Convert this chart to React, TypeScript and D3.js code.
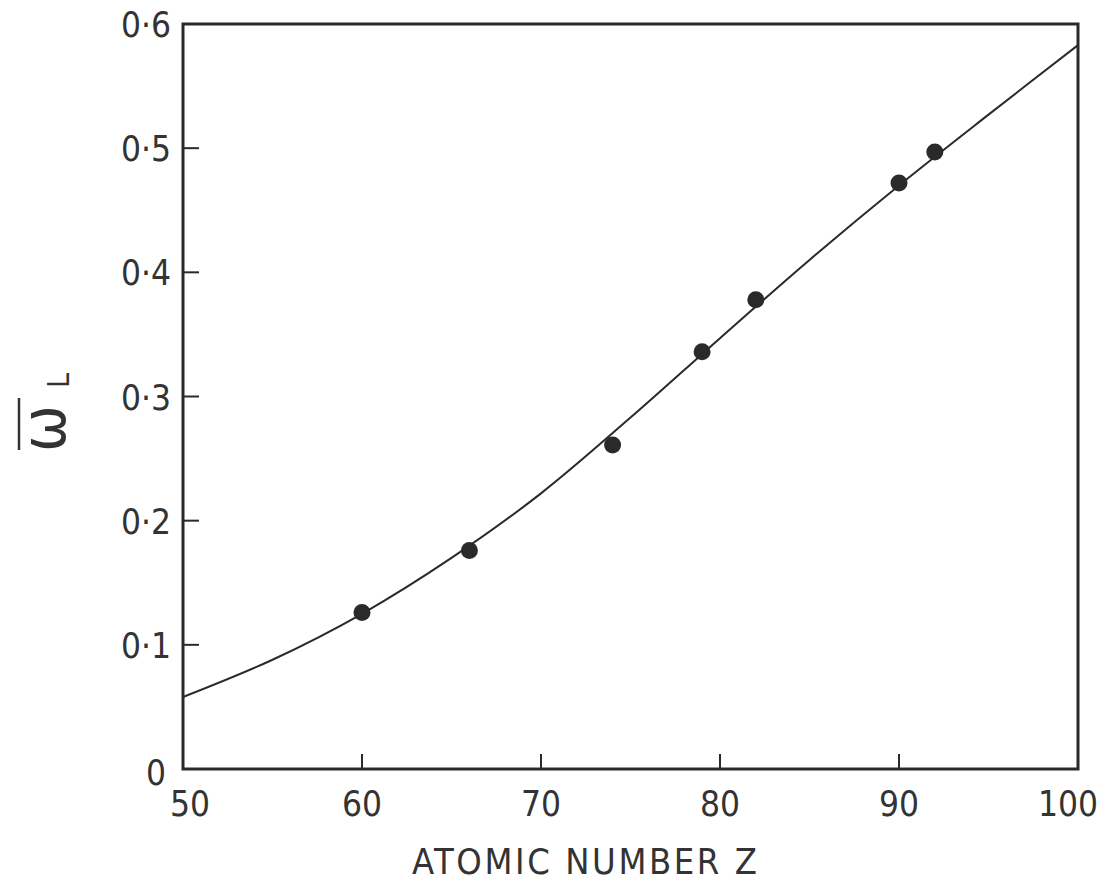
import * as d3 from "d3";

// measured points (Nd, Dy, W, Au, Pb, Th, U)
const pointZ = [60, 66, 74, 79, 82, 90, 92];
const pointOmega = [0.126, 0.176, 0.261, 0.336, 0.378, 0.472, 0.497];

// fitted curve
const curveZ = [50, 55, 60, 65, 70, 75, 80, 85, 90, 95, 100];
const curveOmega = [0.058, 0.088, 0.125, 0.17, 0.222, 0.283, 0.347, 0.41, 0.47, 0.527, 0.583];

const xTicks = [50, 60, 70, 80, 90, 100];
const yTicks = [0, 0.1, 0.2, 0.3, 0.4, 0.5, 0.6];

const width = 1099;
const height = 887;
const left = 183;
const right = 1078;
const top = 24;
const bottom = 769;

const font = "'DejaVu Sans Condensed', 'DejaVu Sans', sans-serif";
const ink = "#2a2a2a";

const fmtY = (v: number) => (v === 0 ? "0" : d3.format(".1f")(v).replace(".", "·"));

export default function App() {
  const x = d3.scaleLinear().domain([50, 100]).range([left, right]);
  const y = d3.scaleLinear().domain([0, 0.6]).range([bottom, top]);

  const line = d3
    .line<number>()
    .x((d) => x(d))
    .y((_, i) => y(curveOmega[i]))
    .curve(d3.curveCatmullRom);

  return (
    <div style={{ position: "absolute", left: 0, top: 0 }}>
      <svg width={width} height={height} style={{ display: "block", background: "#fff" }}>
        {/* curve */}
        <path d={line(curveZ) ?? ""} fill="none" stroke={ink} strokeWidth={2} />

        {/* data points */}
        {pointZ.map((z, i) => (
          <circle key={z} cx={x(z)} cy={y(pointOmega[i])} r={8.5} fill={ink} />
        ))}

        {/* frame */}
        <rect
          x={left}
          y={top}
          width={right - left}
          height={bottom - top}
          fill="none"
          stroke={ink}
          strokeWidth={3}
        />

        {/* y ticks, inward */}
        {yTicks
          .filter((t) => t > 0 && t < 0.6)
          .map((t) => (
            <line key={t} x1={left} x2={left + 16} y1={y(t)} y2={y(t)} stroke={ink} strokeWidth={2} />
          ))}
        {yTicks.map((t) => (
          <text
            key={t}
            x={t === 0 ? 166 : 171}
            y={y(t) + (t === 0 ? 16 : 13)}
            textAnchor="end"
            fontFamily={font}
            fontSize={35}
            fill="#333"
          >
            {fmtY(t)}
          </text>
        ))}

        {/* x ticks, inward */}
        {xTicks
          .filter((t) => t > 50 && t < 100)
          .map((t) => (
            <line key={t} x1={x(t)} x2={x(t)} y1={bottom} y2={bottom - 15} stroke={ink} strokeWidth={2} />
          ))}
        {xTicks.map((t) => (
          <text
            key={t}
            x={x(t) + (t === 50 ? 7 : t === 100 ? -10 : 0)}
            y={816}
            textAnchor="middle"
            fontFamily={font}
            fontSize={35}
            fill="#333"
          >
            {t}
          </text>
        ))}

        {/* x axis title */}
        <text
          x={412}
          y={874}
          fontFamily={font}
          fontSize={36}
          fill="#333"
          textLength={345}
          lengthAdjust="spacing"
        >
          ATOMIC NUMBER Z
        </text>

        {/* y axis title: omega bar, subscript L, rotated */}
        <g transform="translate(65,452) rotate(-90)">
          <text x={0} y={0} fontFamily={font} fontSize={62} fill="#333">
            ω
          </text>
          <line x1={2} x2={54} y1={-46} y2={-46} stroke="#333" strokeWidth={2.5} />
          <text x={64} y={4} fontFamily={font} fontSize={30} fill="#333">
            L
          </text>
        </g>
      </svg>
    </div>
  );
}
